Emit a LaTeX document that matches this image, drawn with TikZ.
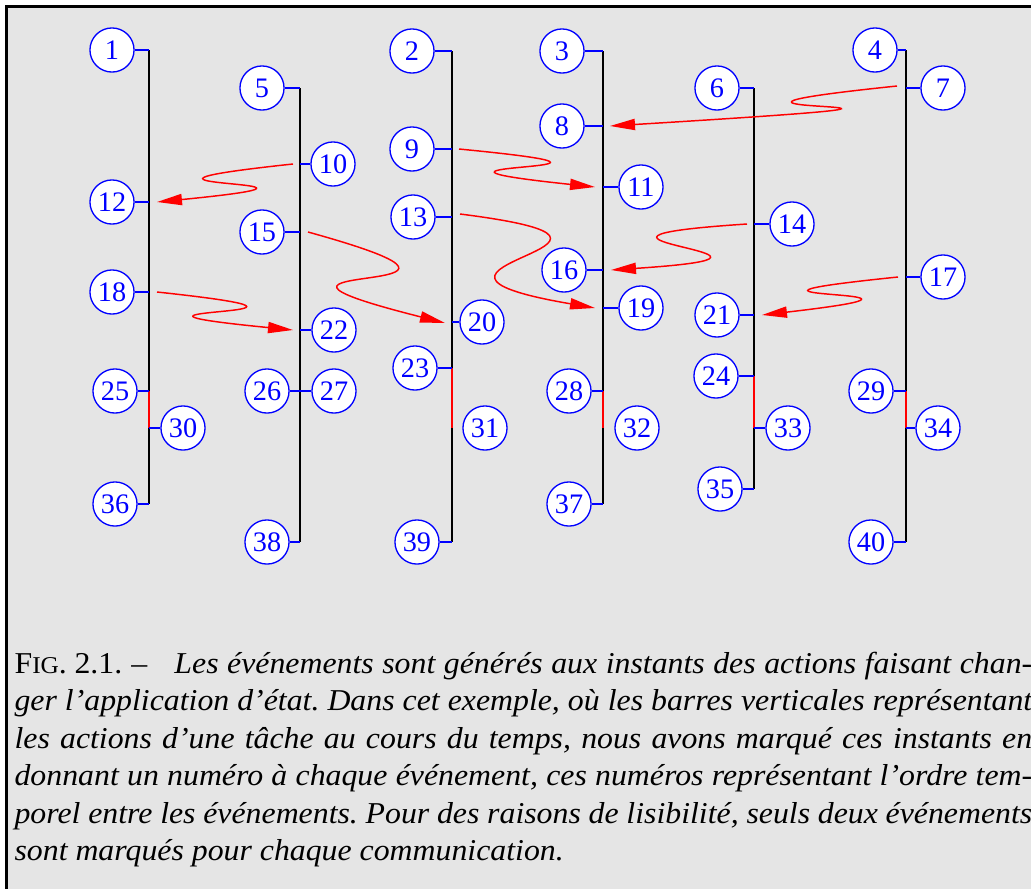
\documentclass[tikz,border=0pt]{standalone}
\usepackage{fontspec}
\setmainfont{Liberation Serif}
\newfontfamily\capfont{Liberation Serif}[FakeStretch=1.05]
\usetikzlibrary{arrows.meta}

\definecolor{panel}{RGB}{229,229,229}
\newlength\capw
\setlength\capw{346pt}
\frenchspacing

\begin{document}
\begin{tikzpicture}[x=0.34pt, y=-0.34pt,
    event/.style={circle, draw=blue, fill=white, text=blue, line width=0.45pt,
      minimum size=15pt, inner sep=0pt, font=\fontsize{9.6}{10}\selectfont},
    tick/.style={draw=blue, line width=0.45pt},
    bar/.style={draw=black, line width=0.4pt},
    busy/.style={draw=red, line width=0.45pt},
    msg/.style={draw=red, line width=0.5pt, -{Triangle[length=8.5pt, width=3.8pt]}},
    caption/.style={anchor=base west, inner sep=0pt, font=\capfont\fontsize{10.3}{12.75}\selectfont}]
    \useasboundingbox (0,0) rectangle (1031,889);
    \fill[panel] (6.5,6.5) rectangle (1031,889);
    \draw[line width=1pt] (6.5,889) -- (6.5,6.5) -- (1031,6.5);

    % time lines of the six tasks
    \coordinate (bar1) at (149,0);
    \coordinate (bar2) at (300,0);
    \coordinate (bar3) at (452,0);
    \coordinate (bar4) at (603,0);
    \coordinate (bar5) at (754,0);
    \coordinate (bar6) at (906,0);

    % events: task 1
    \node[event] (e1) at (112,50) {1};
    \node[event] (e12) at (112,202) {12};
    \node[event] (e18) at (112,292) {18};
    \node[event] (e25) at (115,391) {25};
    \node[event] (e30) at (183,428) {30};
    \node[event] (e36) at (115,504) {36};
    % events: task 2
    \node[event] (e5) at (262,88) {5};
    \node[event] (e10) at (333,164) {10};
    \node[event] (e15) at (262,232) {15};
    \node[event] (e22) at (334,330) {22};
    \node[event] (e26) at (267,391) {26};
    \node[event] (e27) at (334,391) {27};
    \node[event] (e38) at (267,542) {38};
    % events: task 3
    \node[event] (e2) at (412,51) {2};
    \node[event] (e9) at (412,149) {9};
    \node[event] (e13) at (413,217) {13};
    \node[event] (e20) at (482,322) {20};
    \node[event] (e23) at (415,368) {23};
    \node[event] (e31) at (485,428) {31};
    \node[event] (e39) at (417,542) {39};
    % events: task 4
    \node[event] (e3) at (562,51) {3};
    \node[event] (e8) at (562,126) {8};
    \node[event] (e11) at (641,187) {11};
    \node[event] (e16) at (564,270) {16};
    \node[event] (e19) at (641,308) {19};
    \node[event] (e28) at (569,391) {28};
    \node[event] (e32) at (637,428) {32};
    \node[event] (e37) at (569,504) {37};
    % events: task 5
    \node[event] (e6) at (717,88) {6};
    \node[event] (e14) at (792,224) {14};
    \node[event] (e21) at (717,315) {21};
    \node[event] (e24) at (716,376) {24};
    \node[event] (e33) at (788,428) {33};
    \node[event] (e35) at (720,489) {35};
    % events: task 6
    \node[event] (e4) at (875,50) {4};
    \node[event] (e7) at (943,88) {7};
    \node[event] (e17) at (943,277) {17};
    \node[event] (e29) at (871,391) {29};
    \node[event] (e34) at (938,428) {34};
    \node[event] (e40) at (871,542) {40};

    % bars, red where the task is busy
    \draw[bar] (e1 -| bar1) -- (e36 -| bar1);
    \draw[busy] (e25 -| bar1) -- (e30 -| bar1);
    \draw[bar] (e5 -| bar2) -- (e38 -| bar2);
    \draw[bar] (e2 -| bar3) -- (e39 -| bar3);
    \draw[busy] (e23 -| bar3) -- (e31 -| bar3);
    \draw[bar] (e3 -| bar4) -- (e37 -| bar4);
    \draw[busy] (e28 -| bar4) -- (e32 -| bar4);
    \draw[bar] (e6 -| bar5) -- (e35 -| bar5);
    \draw[busy] (e24 -| bar5) -- (e33 -| bar5);
    \draw[bar] (e4 -| bar6) -- (e40 -| bar6);
    \draw[busy] (e29 -| bar6) -- (e34 -| bar6);

    % ticks: task 1 and 2
    \draw[tick] (e1) -- (e1 -| bar1);
    \draw[tick] (e12) -- (e12 -| bar1);
    \draw[tick] (e18) -- (e18 -| bar1);
    \draw[tick] (e25) -- (e25 -| bar1);
    \draw[tick] (e30) -- (e30 -| bar1);
    \draw[tick] (e36) -- (e36 -| bar1);
    \draw[tick] (e5) -- (e5 -| bar2);
    \draw[tick] (e10) -- (e10 -| bar2);
    \draw[tick] (e15) -- (e15 -| bar2);
    \draw[tick] (e22) -- (e22 -| bar2);
    \draw[tick] (e26) -- (e26 -| bar2);
    \draw[tick] (e27) -- (e27 -| bar2);
    \draw[tick] (e38) -- (e38 -| bar2);
    % ticks: task 3 and 4 (none for 31, 32)
    \draw[tick] (e2) -- (e2 -| bar3);
    \draw[tick] (e9) -- (e9 -| bar3);
    \draw[tick] (e13) -- (e13 -| bar3);
    \draw[tick] (e20) -- (e20 -| bar3);
    \draw[tick] (e23) -- (e23 -| bar3);
    \draw[tick] (e39) -- (e39 -| bar3);
    \draw[tick] (e3) -- (e3 -| bar4);
    \draw[tick] (e8) -- (e8 -| bar4);
    \draw[tick] (e11) -- (e11 -| bar4);
    \draw[tick] (e16) -- (e16 -| bar4);
    \draw[tick] (e19) -- (e19 -| bar4);
    \draw[tick] (e28) -- (e28 -| bar4);
    \draw[tick] (e37) -- (e37 -| bar4);
    % ticks: task 5 and 6
    \draw[tick] (e6) -- (e6 -| bar5);
    \draw[tick] (e14) -- (e14 -| bar5);
    \draw[tick] (e21) -- (e21 -| bar5);
    \draw[tick] (e24) -- (e24 -| bar5);
    \draw[tick] (e33) -- (e33 -| bar5);
    \draw[tick] (e35) -- (e35 -| bar5);
    \draw[tick] (e4) -- (e4 -| bar6);
    \draw[tick] (e7) -- (e7 -| bar6);
    \draw[tick] (e17) -- (e17 -| bar6);
    \draw[tick] (e29) -- (e29 -| bar6);
    \draw[tick] (e34) -- (e34 -| bar6);
    \draw[tick] (e40) -- (e40 -| bar6);

    % message ends, a little off the bars
    \coordinate (p7) at (897,86);   \coordinate (p8) at (610,126);
    \coordinate (p9) at (459,149);  \coordinate (p11) at (595,187);
    \coordinate (p10) at (293,164); \coordinate (p12) at (157,202);
    \coordinate (p13) at (460,214); \coordinate (p19) at (595,308);
    \coordinate (p14) at (747,224); \coordinate (p16) at (611,270);
    \coordinate (p15) at (308,232); \coordinate (p20) at (445,323);
    \coordinate (p17) at (898,277); \coordinate (p21) at (762,315);
    \coordinate (p18) at (157,292); \coordinate (p22) at (293,330);

    % messages: 7-8, 9-11, 10-12, 13-19
    \draw[msg] (p7) .. controls (589,118) and (1100,96) .. (p8);
    \draw[msg] (p9) .. controls (706,173) and (349,161) .. (p11);
    \draw[msg] (p10) .. controls (50,190) and (399,178) .. (p12);
    \draw[msg] (p13) .. controls (705,245) and (350,266) .. (p19);
    % messages: 14-16, 15-20, 17-21, 18-22
    \draw[msg] (p14) .. controls (504,240) and (853,254) .. (p16);
    \draw[msg] (p15) .. controls (561,302) and (179,256) .. (p20);
    \draw[msg] (p17) .. controls (655,302) and (1004,287) .. (p21);
    \draw[msg] (p18) .. controls (399,318) and (50,306) .. (p22);

    % caption
    \node[caption] (cap1) at (14,673) {\hbox to\capw{F{\fontsize{8.2}{9}\selectfont IG}.\kern0.25em 2.1.\kern0.3em–\kern0.9em\itshape Les événements sont générés aux instants des actions faisant chan-}};
    \node[caption] (cap2) at (14,710.5) {\hbox to\capw{\itshape ger l’application d’état. Dans cet exemple, où les barres verticales représentant}};
    \node[caption] (cap3) at (14,748) {\hbox to\capw{\itshape les actions d’une tâche au cours du temps, nous avons marqué ces instants en}};
    \node[caption] (cap4) at (14,785.5) {\hbox to\capw{\itshape donnant un numéro à chaque événement, ces numéros représentant l’ordre tem-}};
    \node[caption] (cap5) at (14,823) {\hbox to\capw{\itshape porel entre les événements. Pour des raisons de lisibilité, seuls deux événements}};
    \node[caption] (cap6) at (14,860.5) {\itshape sont marqués pour chaque communication.};
\end{tikzpicture}
\end{document}
